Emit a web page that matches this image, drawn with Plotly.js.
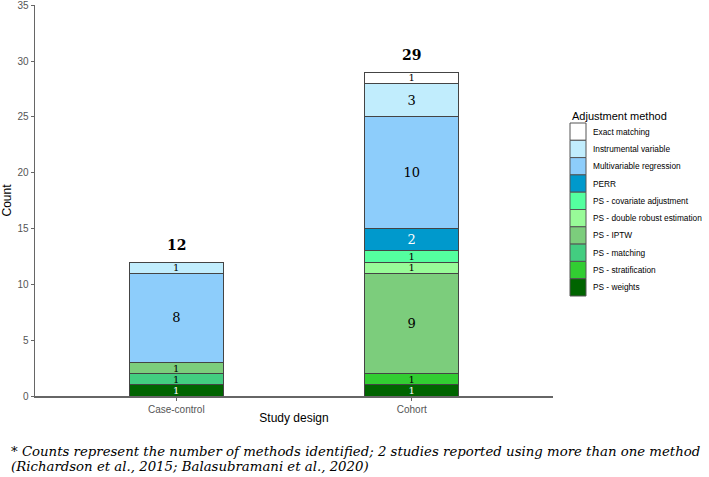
<!DOCTYPE html>
<html>
<head>
<meta charset="utf-8">
<script src="https://cdn.plot.ly/plotly-3.0.1.min.js"></script>
<style>html,body{margin:0;padding:0;background:#fff;}#chart{width:709px;height:477px;}</style>
</head>
<body>
<div id="chart"></div>
<script>
const categories = ["Case-control", "Cohort"];
// stacking order bottom -> top
const methods = ["PS - weights", "PS - stratification", "PS - matching", "PS - IPTW",
  "PS - double robust estimation", "PS - covariate adjustment", "PERR",
  "Multivariable regression", "Instrumental variable", "Exact matching"];
const caseControl = [1, 0, 1, 1, 0, 0, 0, 8, 1, 0];
const cohort      = [1, 1, 0, 9, 1, 1, 2, 10, 3, 1];
const colors = ["#006400", "#32CD32", "#43CD80", "#7CCD7C", "#98FB98", "#54FF9F",
  "#0099CC", "#8DCDFB", "#C1EDFD", "#FFFFFF"];
const labelColors = ["#ffffff", "#000000", "#000000", "#000000", "#000000", "#000000",
  "#ffffff", "#000000", "#000000", "#000000"];

const W = 709, H = 477, ML = 35, MR = 156, MT = 5, MB = 81;
const PW = W - ML - MR, PH = H - MT - MB;
const px2x = p => (p - ML) / PW;
const py2y = p => (H - MB - p) / PH;

const traces = methods.map((m, i) => {
  const vals = [caseControl[i], cohort[i]];
  return {
    type: "bar", name: m, x: categories, y: vals,
    marker: {color: colors[i], line: {color: "#444", width: 1}},
    text: vals.map(v => v > 0 ? String(v) : ""),
    textposition: "inside", insidetextanchor: "middle", constraintext: "none", textangle: 0,
    textfont: {family: "DejaVu Serif", size: vals.map(v => v > 1 ? 13 : 10), color: labelColors[i]},
    width: 0.4, hoverinfo: "skip", showlegend: false
  };
});

const totals = categories.map((c, j) => methods.reduce((s, m, i) => s + (j === 0 ? caseControl[i] : cohort[i]), 0));
const annotations = categories.map((c, j) => ({
  x: c, y: totals[j], xref: "x", yref: "y", text: "<b>" + totals[j] + "</b>",
  showarrow: false, yshift: 17, font: {family: "DejaVu Serif", size: 14, color: "#000"}
}));
const footLines = ["* Counts represent the number of methods identified; 2 studies reported using more than one method",
  "(Richardson et al., 2015; Balasubramani et al., 2020)"];
footLines.forEach((t, k) => annotations.push({
  xref: "paper", yref: "paper", x: px2x(9), y: py2y(451 + k * 15), xanchor: "left", yanchor: "middle",
  showarrow: false, text: "<i>" + t + "</i>",
  font: {family: "DejaVu Serif", size: 13.3, color: "#000"}
}));

// custom legend (ggplot-style, contiguous keys)
const legendX = 570, legendTop = 123, keyH = 17.3, keyW = 16;
const shapes = [];
annotations.push({
  xref: "paper", yref: "paper", x: px2x(legendX), y: py2y(116), xanchor: "left", yanchor: "middle",
  showarrow: false, text: "Adjustment method", font: {size: 11, color: "#000"}
});
const legendOrder = methods.map((m, i) => i).reverse();
legendOrder.forEach((i, k) => {
  const top = legendTop + k * keyH;
  shapes.push({
    type: "rect", xref: "paper", yref: "paper",
    x0: px2x(legendX), x1: px2x(legendX + keyW), y0: py2y(top), y1: py2y(top + keyH),
    fillcolor: colors[i], line: {color: "#555", width: 1}
  });
  annotations.push({
    xref: "paper", yref: "paper", x: px2x(legendX + keyW + 5), y: py2y(top + keyH / 2),
    xanchor: "left", yanchor: "middle", showarrow: false, text: methods[i],
    font: {size: 8.3, color: "#000"}
  });
});

const layout = {
  width: W, height: H,
  margin: {l: ML, r: MR, t: MT, b: MB},
  paper_bgcolor: "#fff", plot_bgcolor: "#fff",
  barmode: "stack",
  font: {family: "Liberation Sans, Arial, sans-serif", color: "#000"},
  xaxis: {
    range: [-0.6, 1.6], showgrid: false, zeroline: false,
    showline: true, linecolor: "#666", linewidth: 1.5,
    ticks: "outside", ticklen: 3, tickcolor: "#666",
    tickfont: {size: 10, color: "#555"},
    title: {text: "Study design", font: {size: 12, color: "#000"}, standoff: 0}
  },
  yaxis: {
    range: [0, 35.02], tickvals: [0, 5, 10, 15, 20, 25, 30, 35], showgrid: false, zeroline: false,
    showline: true, linecolor: "#666", linewidth: 1.5, ticklabeloverflow: "allow",
    ticks: "outside", ticklen: 3, tickcolor: "#666",
    tickfont: {size: 10, color: "#555"},
    title: {text: "Count", font: {size: 12, color: "#000"}, standoff: 6}
  },
  annotations: annotations,
  shapes: shapes,
  showlegend: false
};

Plotly.newPlot("chart", traces, layout, {staticPlot: true});
</script>
</body>
</html>
